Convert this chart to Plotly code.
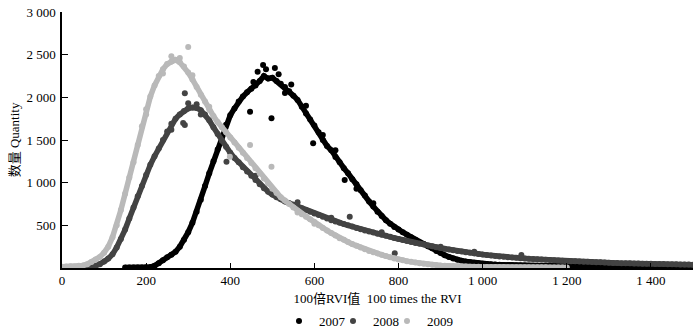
import plotly.graph_objects as go

# ---------------- data ----------------
years = ["2007", "2008", "2009"]
colors = ["#000000", "#434343", "#b9b9b9"]

step = 10
x0_2007, x0_2008, x0_2009 = 150, 0, 0

y_2007 = [5, 5, 5, 6, 7, 9, 12, 25, 55, 90, 125, 155, 190, 250, 330, 420, 530, 660, 800, 960,
          1110, 1250, 1390, 1540, 1680, 1790, 1870, 1950, 2010, 2060, 2100, 2140, 2190, 2250, 2220, 2230,
          2190, 2160, 2120, 2070, 2020, 1970, 1890, 1810, 1740, 1670, 1590, 1500, 1430, 1380, 1300,
          1240, 1170, 1110, 1040, 980, 910, 850, 780, 720, 660, 610, 560, 520, 480, 450, 420, 390,
          360, 330, 300, 280, 255, 230, 200, 175, 150, 130, 112, 98, 86, 76, 68, 61, 55, 50,
          46, 43, 40, 38, 36, 34, 32, 30, 29, 28,
          27, 26, 25, 24, 23, 23, 22, 21, 21, 20,
          20, 19, 19, 18, 18, 17, 17, 17, 16, 16,
          16, 15, 15, 15, 14, 14, 14, 13, 13, 13,
          13, 12, 12, 12, 12, 11, 11, 11, 11, 10]

y_2008 = [5, 5, 6, 6, 7, 8, 10, 15, 25, 45, 75, 110, 160, 240, 340, 450, 580, 710, 840, 960,
          1090, 1210, 1310, 1400, 1500, 1600, 1690, 1750, 1800, 1840, 1870, 1880, 1875, 1850, 1800,
          1730, 1650, 1570, 1490, 1420, 1350, 1290, 1240, 1180, 1130, 1080, 1030, 980, 935, 895,
          860, 830, 805, 780, 760, 740, 720, 700, 680, 660, 640, 620, 600, 580, 560, 545, 530,
          515, 500, 485, 470, 455, 440, 428, 415, 402, 390, 378, 365, 352, 340, 328, 316, 305,
          294, 284, 274, 264, 254, 244, 234, 225, 216, 208, 200, 192, 185, 178, 171, 164, 158,
          152, 146, 141, 136, 131, 127, 123, 119, 115, 111,
          108, 105, 102, 99, 96, 93, 90, 87, 85, 82,
          80, 78, 76, 74, 72, 70, 68, 66, 64, 62,
          60, 59, 57, 56, 55, 53, 52, 51, 50, 49,
          48, 47, 46, 45, 44, 43, 42, 41, 40, 39]

y_2009 = [15, 18, 20, 18, 25, 30, 45, 70, 100, 130, 180, 250, 360, 500, 680, 870, 1060, 1240,
          1440, 1660, 1860, 2010, 2140, 2250, 2330, 2390, 2420, 2440, 2410, 2360, 2290, 2210, 2120,
          2030, 1950, 1860, 1780, 1710, 1650, 1590, 1530, 1470, 1410, 1350, 1290, 1230, 1170, 1110,
          1050, 990, 930, 880, 830, 790, 750, 710, 670, 630, 600, 570, 540, 500, 470, 440, 410,
          380, 350, 330, 305, 280, 260, 240, 220, 200, 185, 170, 155, 140, 125, 112, 100, 90, 80,
          72, 63, 55, 50, 44, 38, 34, 30, 27, 24, 22, 20, 18,
          17, 16, 15, 14, 13, 13, 12, 12, 11, 11, 10, 10, 10, 9, 9, 9, 8, 8, 8, 8, 7, 7, 7, 7, 7]

# scattered points that sit off the main band
out_x_2007 = [447, 478, 498, 506, 597, 672, 465, 530, 620, 700, 455, 485, 515, 545, 580, 650, 740]
out_y_2007 = [1832, 2379, 1754, 2344, 1461, 1031, 2300, 2050, 1560, 930, 2180, 2330, 2270, 2150, 1900, 1380, 760]
out_x_2008 = [292, 292, 288, 391, 684, 791, 1092, 260, 330, 560, 900, 300, 320, 460, 640, 760, 980]
out_y_2008 = [2047, 1676, 1700, 1246, 601, 172, 152, 1620, 1800, 770, 250, 1930, 1920, 1080, 590, 420, 190]
out_x_2009 = [300, 399, 447, 498, 240, 200, 280, 350, 260, 310, 560, 600]
out_y_2009 = [2590, 1305, 1441, 1187, 2280, 1800, 2460, 1890, 2480, 2260, 650, 520]

x_ticks = [0, 200, 400, 600, 800, 1000, 1200, 1400]
x_ticktext = ["0", "200", "400", "600", "800", "1 000", "1 200", "1 400"]
y_ticks = [500, 1000, 1500, 2000, 2500, 3000]
y_ticktext = ["500", "1 000", "1 500", "2 000", "2 500", "3 000"]

# ---------------- figure ----------------
series = [
    (x0_2007, y_2007, out_x_2007, out_y_2007),
    (x0_2008, y_2008, out_x_2008, out_y_2008),
    (x0_2009, y_2009, out_x_2009, out_y_2009),
]
legend_ids = ["legend", "legend2", "legend3"]

fig = go.Figure()
for name, col, (x0, ys, ox, oy), lg in zip(years, colors, series, legend_ids):
    xs = list(range(x0, x0 + step * len(ys), step))
    fig.add_trace(go.Scatter(x=xs, y=ys, mode="lines", showlegend=False,
                             line=dict(color=col, width=5.5), hoverinfo="skip"))
    fig.add_trace(go.Scatter(x=xs + ox, y=ys + oy, mode="markers", name=name, legend=lg,
                             marker=dict(color=col, size=6, line=dict(width=0))))

FONT = '"Liberation Serif", "Times New Roman", "Noto Sans CJK SC", serif'
W, H = 700, 333

def leg(xpx):
    return dict(orientation="h", xref="container", yref="container",
                x=xpx / W, xanchor="left", y=(H - 321) / H, yanchor="middle",
                font=dict(size=13, family=FONT),
                itemwidth=30, bgcolor="rgba(0,0,0,0)", borderwidth=0)

fig.update_layout(
    width=W, height=H,
    margin=dict(l=62, r=7, t=12, b=65),
    paper_bgcolor="#ffffff", plot_bgcolor="#ffffff",
    font=dict(family=FONT, size=13, color="#000000"),
    showlegend=True,
    legend=leg(279), legend2=leg(333), legend3=leg(387),
    xaxis=dict(range=[0, 1500], tickvals=x_ticks, ticktext=x_ticktext,
               ticks="inside", ticklen=5, tickwidth=1.2, tickcolor="#000",
               showline=True, linecolor="#000", linewidth=1.5,
               showgrid=False, zeroline=False, automargin=False,
               title=dict(text="100倍RVI值  100 times the RVI", standoff=11,
                          font=dict(size=13))),
    yaxis=dict(range=[0, 3000], tickvals=y_ticks, ticktext=y_ticktext,
               ticks="inside", ticklen=6, tickwidth=1.2, tickcolor="#000",
               showline=True, linecolor="#000", linewidth=1.5,
               showgrid=False, zeroline=False, ticklabelstandoff=2, automargin=False,
               title=dict(text="数量 Quantity", standoff=4, font=dict(size=13))),
)

fig.write_html("out.html",
               config={"displayModeBar": False},
               post_script="document.body.style.margin='0';document.body.style.padding='0';")
